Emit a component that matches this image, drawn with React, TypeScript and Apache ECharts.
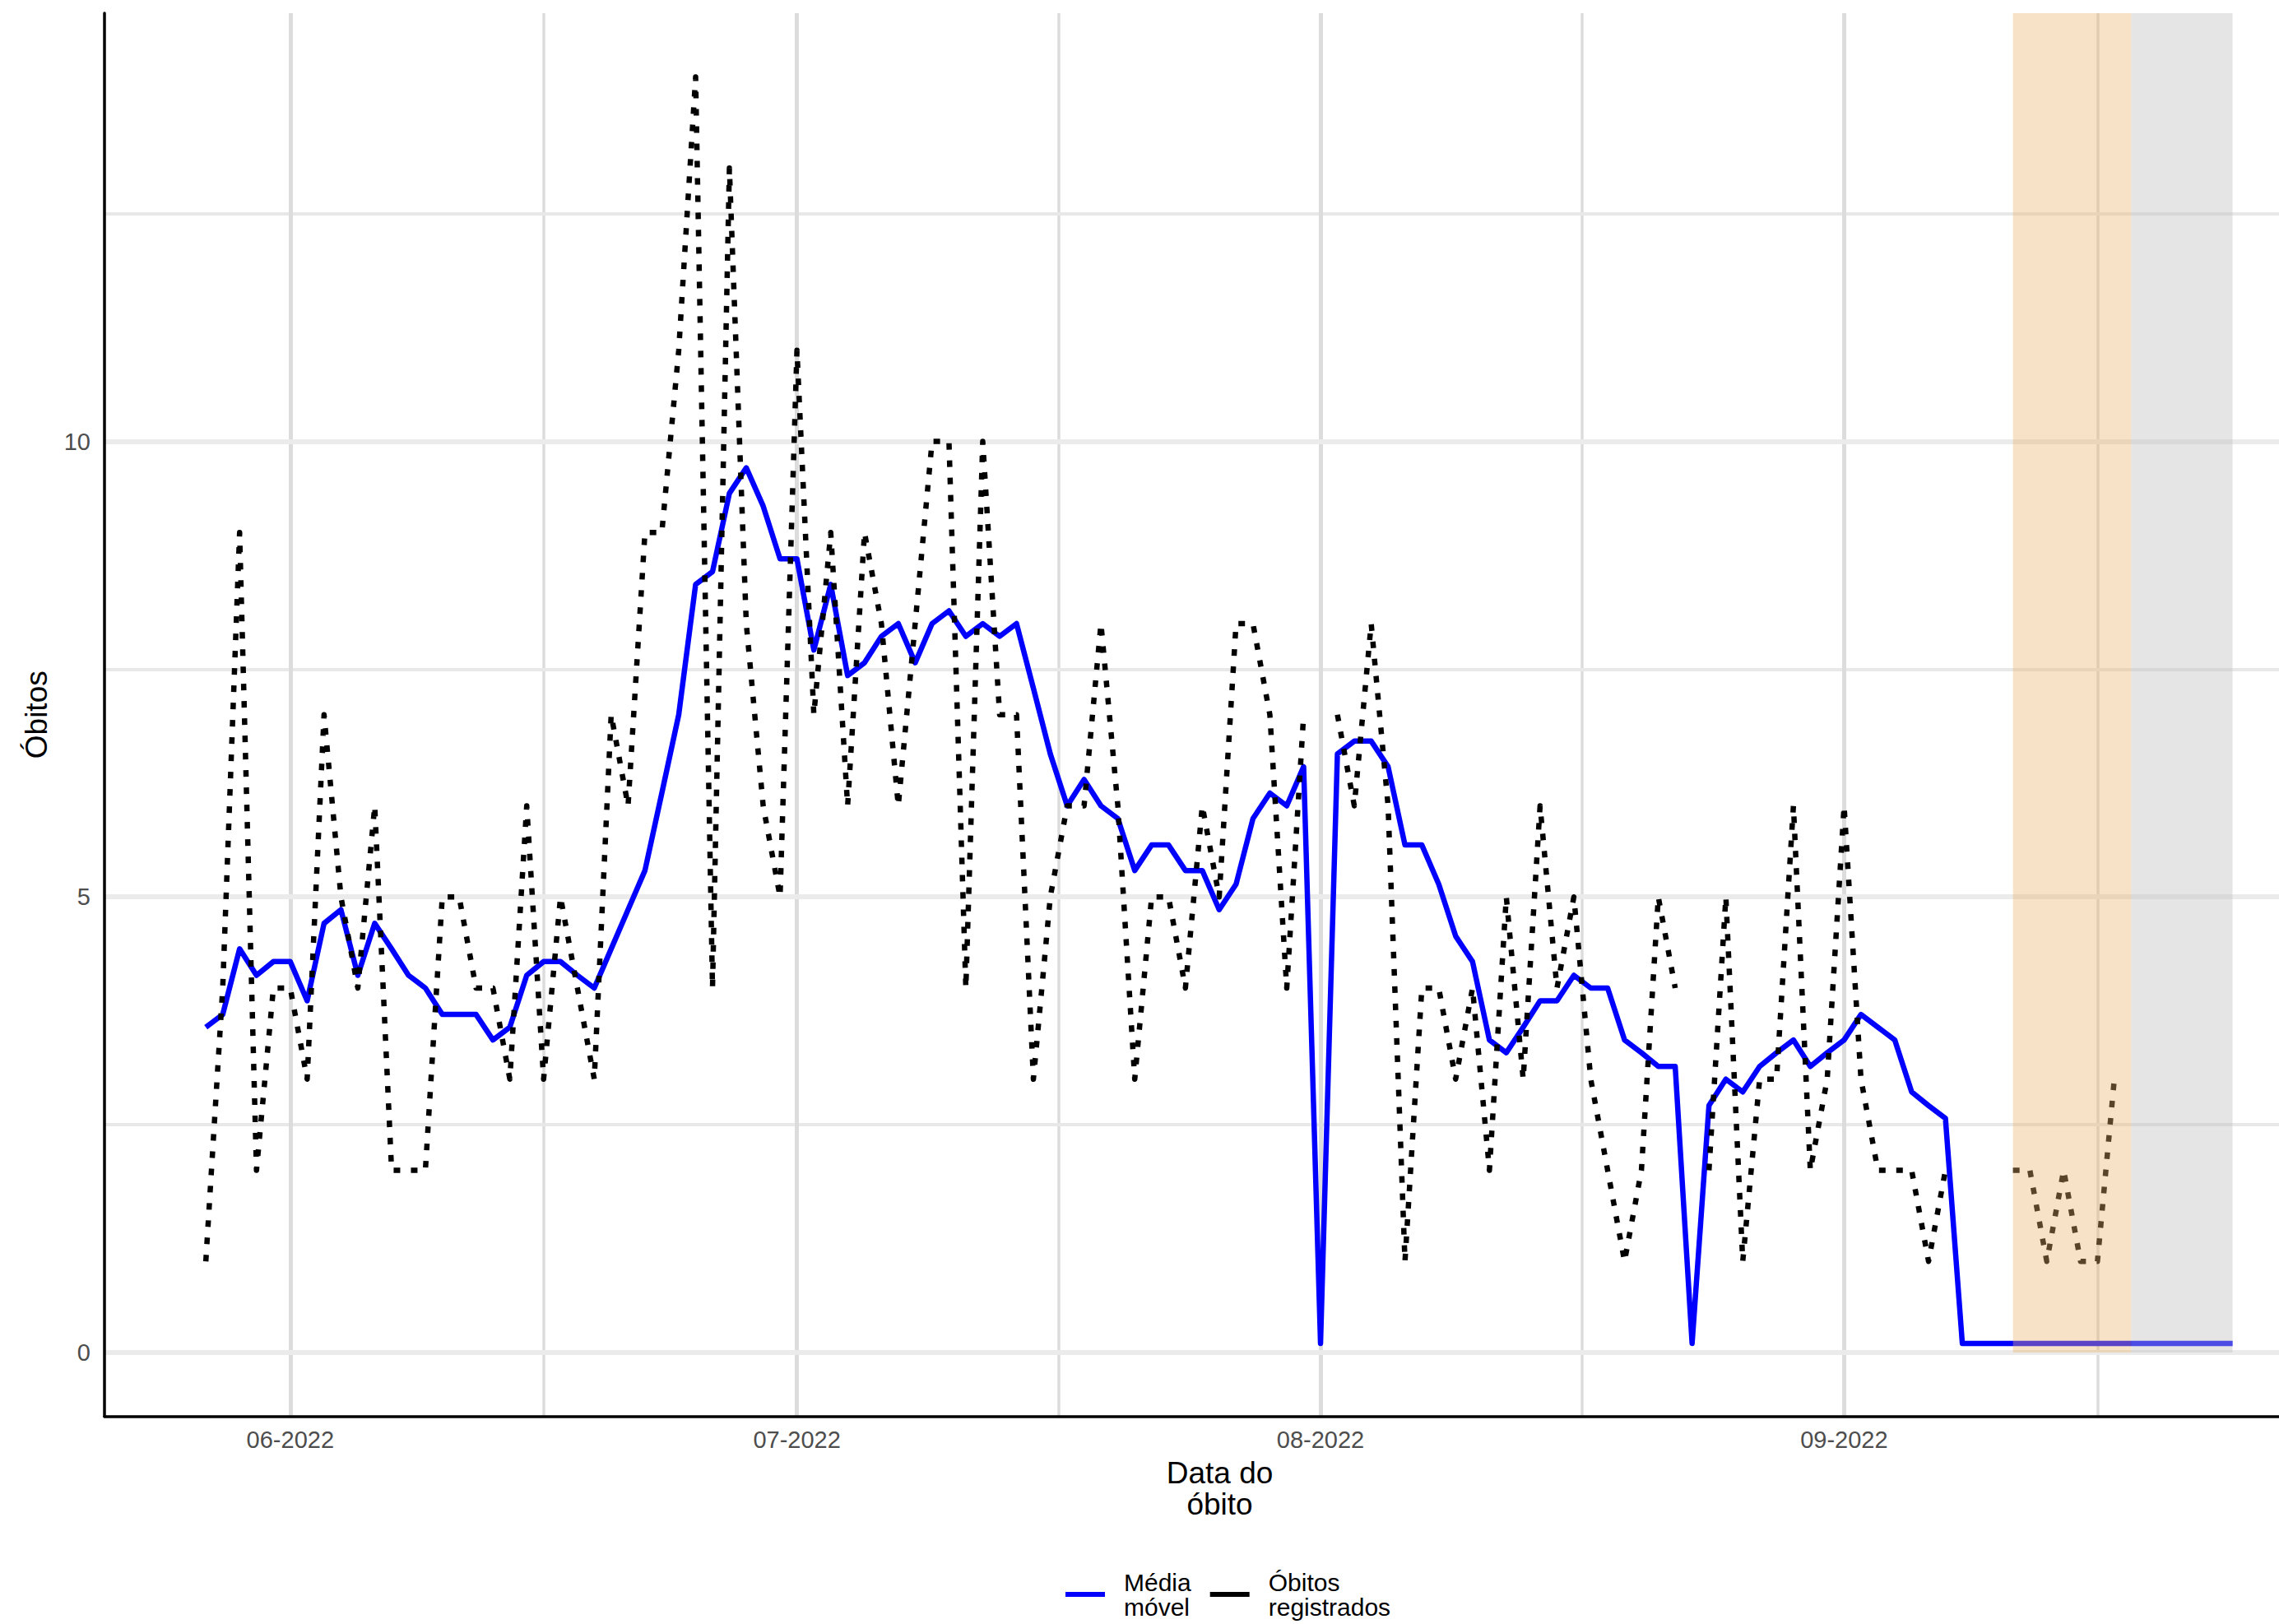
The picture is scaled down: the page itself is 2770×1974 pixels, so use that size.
import React, { useEffect, useRef } from 'react';
import * as echarts from 'echarts';

// x values are day offsets counted from 2022-06-01 (day 0); the series start on 2022-05-27 (day -5)
const FIRST_DAY = -5;

const OBITOS_REGISTRADOS: (number | null)[] = [
  1, 4, 9, 2, 4, 4, 3, 7, 5, 4,
  6, 2, 2, 2, 5, 5, 4, 4, 3, 6,
  3, 5, 4, 3, 7, 6, 9, 9, 11, 14,
  4, 13, 8, 6, 5, 11, 7, 9, 6, 9,
  8, 6, 8, 10, 10, 4, 10, 7, 7, 3,
  5, 6, 6, 8, 6, 3, 5, 5, 4, 6,
  5, 8, 8, 7, 4, 7, null, 7, 6, 8,
  6, 1, 4, 4, 3, 4, 2, 5, 3, 6,
  4, 5, 3, 2, 1, 2, 5, 4, null, 2,
  5, 1, 3, 3, 6, 2, 3, 6, 3, 2,
  2, 2, 1, 2, null, null, null, 2, 2, 1,
  2, 1, 1, 3, null, null, null, null, null, null, null,
];

const MEDIA_MOVEL: number[] = [
  3.57, 3.71, 4.43, 4.14, 4.29, 4.29, 3.86, 4.71, 4.86, 4.14,
  4.71, 4.43, 4.14, 4.0, 3.71, 3.71, 3.71, 3.43, 3.57, 4.14,
  4.29, 4.29, 4.14, 4.0, 4.43, 4.86, 5.29, 6.14, 7.0, 8.43,
  8.57, 9.43, 9.71, 9.29, 8.71, 8.71, 7.71, 8.43, 7.43, 7.57,
  7.86, 8.0, 7.57, 8.0, 8.14, 7.86, 8.0, 7.86, 8.0, 7.29,
  6.57, 6.0, 6.29, 6.0, 5.86, 5.29, 5.57, 5.57, 5.29, 5.29,
  4.86, 5.14, 5.86, 6.14, 6.0, 6.43, 0.1, 6.57, 6.71, 6.71,
  6.43, 5.57, 5.57, 5.14, 4.57, 4.29, 3.43, 3.29, 3.57, 3.86,
  3.86, 4.14, 4.0, 4.0, 3.43, 3.29, 3.14, 3.14, 0.1, 2.71,
  3.0, 2.86, 3.14, 3.29, 3.43, 3.14, 3.29, 3.43, 3.71, 3.57,
  3.43, 2.86, 2.71, 2.57, 0.1, 0.1, 0.1, 0.1, 0.1, 0.1,
  0.1, 0.1, 0.1, 0.1, 0.1, 0.1, 0.1, 0.1, 0.1, 0.1, 0.1,
];

const MONTH_STARTS = [0, 30, 61, 92];
const MONTH_LABELS = ['06-2022', '07-2022', '08-2022', '09-2022'];
const MID_MONTHS = [15, 45.5, 76.5, 107];
const Y_LABELS = [0, 5, 10];
const Y_MINOR = [2.5, 7.5, 12.5];
const X_MIN = -11;
const X_MAX = 117.75;
const Y_MIN = -0.7;
const Y_MAX = 14.7;
const PERIODO_LARANJA = [102, 109];
const PERIODO_CINZA = [109, 115];

const FONT = "'Liberation Sans', Arial, Helvetica, sans-serif";

export default function App() {
  const ref = useRef<HTMLDivElement>(null);

  useEffect(() => {
    if (!ref.current) return;
    const chart = echarts.init(ref.current, null, { renderer: 'svg' });
    const days = OBITOS_REGISTRADOS.map((_, i) => FIRST_DAY + i);

    const gridLines: any[] = [
      ...MID_MONTHS.map((v) => ({ xAxis: v, lineStyle: { color: '#dcdcdc', width: 3.5, type: 'solid' } })),
      ...Y_MINOR.map((v) => ({ yAxis: v, lineStyle: { color: '#e8e8e8', width: 4, type: 'solid' } })),
      ...MONTH_STARTS.map((v) => ({ xAxis: v, lineStyle: { color: '#dcdcdc', width: 5, type: 'solid' } })),
      ...Y_LABELS.map((v) => ({ yAxis: v, lineStyle: { color: '#ebebeb', width: 6, type: 'solid' } })),
    ];

    chart.setOption({
      animation: false,
      backgroundColor: '#ffffff',
      grid: { left: 127, right: 0, top: 16, bottom: 252.5, containLabel: false },
      xAxis: {
        type: 'value',
        min: X_MIN,
        max: X_MAX,
        z: 5,
        axisLine: { show: true, onZero: false, lineStyle: { color: '#000000', width: 3.5 } },
        axisTick: { show: false },
        splitLine: { show: false },
        axisLabel: {
          customValues: MONTH_STARTS,
          formatter: (v: number) => {
            const i = MONTH_STARTS.indexOf(v);
            return i >= 0 ? MONTH_LABELS[i] : '';
          },
          fontSize: 29,
          color: '#4d4d4d',
          margin: 14,
          fontFamily: FONT,
        },
        name: 'Data do\nóbito',
        nameLocation: 'middle',
        nameGap: 50,
        nameTextStyle: {
          fontSize: 37,
          lineHeight: 38,
          color: '#000000',
          fontFamily: FONT,
          padding: [0, 0, 0, 68],
          verticalAlign: 'top',
        },
      },
      yAxis: {
        type: 'value',
        min: Y_MIN,
        max: Y_MAX,
        z: 5,
        axisLine: { show: true, onZero: false, lineStyle: { color: '#000000', width: 3.5 } },
        axisTick: { show: false },
        splitLine: { show: false },
        axisLabel: {
          customValues: Y_LABELS,
          fontSize: 29,
          color: '#4d4d4d',
          margin: 17,
          fontFamily: FONT,
        },
        name: 'Óbitos',
        nameLocation: 'middle',
        nameRotate: 90,
        nameGap: 64,
        nameTextStyle: { fontSize: 37, color: '#000000', fontFamily: FONT },
      },
      legend: {
        left: 1295,
        top: 1908,
        padding: 0,
        itemWidth: 48,
        itemHeight: 6,
        itemGap: 23,
        selectedMode: false,
        formatter: (name: string) => name.replace(' ', '\n'),
        textStyle: {
          fontSize: 30,
          lineHeight: 30,
          color: '#000000',
          fontFamily: FONT,
          padding: [0, 0, 0, 18],
        },
        data: [
          { name: 'Média móvel', icon: 'rect', itemStyle: { color: '#0000ff', borderWidth: 0 } },
          { name: 'Óbitos registrados', icon: 'rect', itemStyle: { color: '#000000', borderWidth: 0 } },
        ],
      },
      series: [
        {
          name: 'Média móvel',
          type: 'line',
          data: days.map((d, i) => [d, MEDIA_MOVEL[i]]),
          showSymbol: false,
          symbol: 'none',
          z: 3,
          silent: true,
          lineStyle: { color: '#0000ff', width: 6.5, join: 'round' },
          itemStyle: { color: '#0000ff' },
          markLine: {
            silent: true,
            z: 1,
            symbol: ['none', 'none'],
            label: { show: false },
            emphasis: { disabled: true },
            lineStyle: { type: 'solid' },
            data: gridLines,
          },
        },
        {
          name: 'Óbitos registrados',
          type: 'line',
          data: days.map((d, i) => [d, OBITOS_REGISTRADOS[i]]),
          showSymbol: false,
          symbol: 'none',
          z: 4,
          silent: true,
          connectNulls: false,
          lineStyle: { color: '#000000', width: 6.5, type: [8, 13], cap: 'butt', join: 'round' },
          itemStyle: { color: '#000000' },
          markArea: {
            silent: true,
            z: 10,
            label: { show: false },
            emphasis: { disabled: true },
            data: [
              [
                { xAxis: PERIODO_LARANJA[0], yAxis: 0, itemStyle: { color: 'rgba(235,178,110,0.38)' } },
                { xAxis: PERIODO_LARANJA[1], yAxis: Y_MAX },
              ],
              [
                { xAxis: PERIODO_CINZA[0], yAxis: 0, itemStyle: { color: 'rgba(190,190,190,0.4)' } },
                { xAxis: PERIODO_CINZA[1], yAxis: Y_MAX },
              ],
            ],
          },
        },
      ],
    });

    return () => chart.dispose();
  }, []);

  return (
    <div
      ref={ref}
      style={{ position: 'absolute', left: 0, top: 0, width: 2770, height: 1974, background: '#ffffff' }}
    />
  );
}
